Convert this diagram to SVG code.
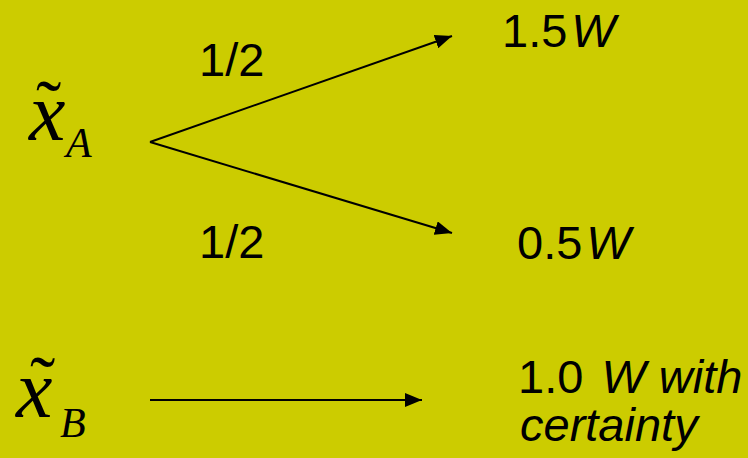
<svg xmlns="http://www.w3.org/2000/svg" width="748" height="458" viewBox="0 0 748 458">
<style>
.lbl{font-family:"Liberation Sans",Arial,sans-serif;font-size:47px;fill:#000}
.it{font-style:italic}
.math{font-family:"Liberation Serif","Times New Roman",serif;font-style:italic;fill:#000}
.up{font-style:normal}
.conn{stroke:#000;stroke-width:2;fill:none}
</style>
<defs>
<marker id="ah" markerUnits="userSpaceOnUse" markerWidth="18" markerHeight="14" refX="17" refY="7" orient="auto">
<path d="M0,0 L17,7 L0,14 Z" fill="#000"/>
</marker>
</defs>
<rect width="748" height="458" fill="#CCCC00"/>
<g id="connectors">
<line class="conn" x1="150" y1="142" x2="452" y2="36" marker-end="url(#ah)"/>
<line class="conn" x1="150" y1="142" x2="452" y2="233" marker-end="url(#ah)"/>
<line class="conn" x1="150" y1="400" x2="422" y2="400" marker-end="url(#ah)"/>
</g>
<g id="xA">
<text class="math"><tspan x="29" y="140" font-size="82">x</tspan><tspan class="up" x="36" y="133" font-size="76">˜</tspan></text>
<text class="math" x="66" y="157" font-size="42">A</text>
</g>
<g id="xB">
<text class="math"><tspan x="16" y="417" font-size="82">x</tspan><tspan class="up" x="30" y="409" font-size="76">˜</tspan></text>
<text class="math" x="60" y="437" font-size="42">B</text>
</g>
<g id="p-top"><text class="lbl" x="199" y="76">1/2</text></g>
<g id="p-bot"><text class="lbl" x="199" y="258">1/2</text></g>
<g id="out-15"><text class="lbl" x="502" y="47">1.5<tspan class="it" dx="4">W</tspan></text></g>
<g id="out-05"><text class="lbl" x="517" y="259">0.5<tspan class="it" dx="4">W</tspan></text></g>
<g id="out-10">
<text class="lbl" x="518" y="393">1.0 <tspan class="it" dx="5">W with</tspan></text>
<text class="lbl it" x="520" y="441">certainty</text>
</g>
</svg>
